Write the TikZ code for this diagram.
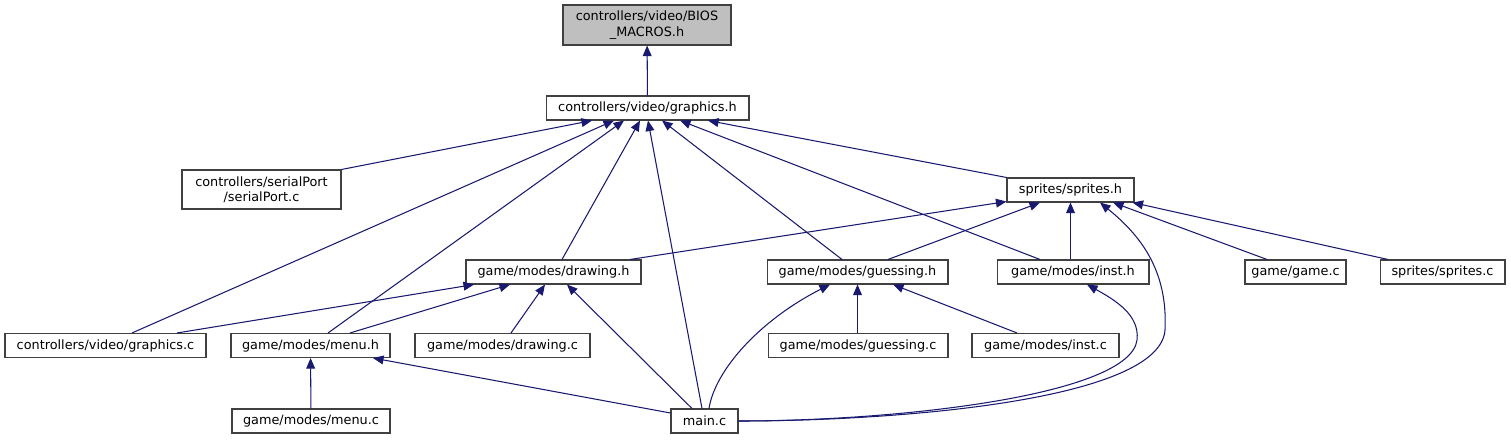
\documentclass[tikz,border=0pt]{standalone}
\usepackage{fontspec}
\setmainfont{DejaVu Sans}
\usetikzlibrary{arrows.meta,calc}
\definecolor{midnightblue}{RGB}{25,25,112}
\definecolor{rootgray}{RGB}{191,191,191}
\begin{document}
\begin{tikzpicture}[
  x=0.02cm,y=-0.02cm,
  file/.style={draw=black!75,fill=white,line width=0.6pt,inner sep=0pt,
    minimum height=0.48cm,align=center,font=\fontsize{7.3}{8.8}\selectfont},
  root/.style={file,fill=rootgray,minimum height=0.8cm},
  dep/.style={-{Triangle[length=6pt,width=5pt]},midnightblue,line width=0.6pt}
]
  \useasboundingbox (0,0) rectangle (1511,440);

  % files
  \node[root,minimum width=3.36cm] (bios) at (647,25) {controllers/video/BIOS\\\_MACROS.h};
  \node[file,minimum width=4.06cm] (graphicsh) at (647.5,108) {controllers/video/graphics.h};
  \node[file,minimum width=3.18cm,minimum height=0.78cm] (serialc) at (261.5,189.5) {controllers/serialPort\\/serialPort.c};
  \node[file,minimum width=2.54cm] (spritesh) at (1070.5,190) {sprites/sprites.h};

  \node[file,minimum width=3.50cm] (drawingh) at (553.5,272) {game/modes/drawing.h};
  \node[file,minimum width=3.62cm] (guessingh) at (857.5,272) {game/modes/guessing.h};
  \node[file,minimum width=3.04cm] (insth) at (1073,272) {game/modes/inst.h};
  \node[file,minimum width=2.02cm] (gamec) at (1295.5,272) {game/game.c};
  \node[file,minimum width=2.50cm] (spritesc) at (1442.5,272) {sprites/sprites.c};

  \node[file,minimum width=4.02cm] (graphicsc) at (105.5,345.5) {controllers/video/graphics.c};
  \node[file,minimum width=3.18cm] (menuh) at (310.5,345.5) {game/modes/menu.h};
  \node[file,minimum width=3.50cm] (drawingc) at (502.5,345.5) {game/modes/drawing.c};
  \node[file,minimum width=3.60cm] (guessingc) at (858,345.5) {game/modes/guessing.c};
  \node[file,minimum width=2.94cm] (instc) at (1045.5,345.5) {game/modes/inst.c};

  \node[file,minimum width=3.16cm] (menuc) at (311,421) {game/modes/menu.c};
  \node[file,minimum width=1.34cm] (mainc) at (704.5,421) {main.c};

  % includes of graphics.h
  \draw[dep] (graphicsh) -- (bios);
  \draw[dep] (serialc.north east) -- ($(graphicsh.south)+(-55.5,0)$);
  \draw[dep] ($(graphicsc.north)+(26.5,0)$) -- ($(graphicsh.south)+(-33.5,0)$);
  \draw[dep] ($(menuh.north)+(17.5,0)$) -- ($(graphicsh.south)+(-23.5,0)$);
  \draw[dep] ($(drawingh.north)+(8.5,0)$) -- ($(graphicsh.south)+(-7.5,0)$);
  \draw[dep] ($(mainc.north)+(-2.5,0)$) -- ($(graphicsh.south)+(0.5,0)$);
  \draw[dep] ($(guessingh.north)+(-15.5,0)$) -- ($(graphicsh.south)+(14.5,0)$);
  \draw[dep] ($(insth.north)+(-33,0)$) -- ($(graphicsh.south)+(32.5,0)$);
  \draw[dep] (spritesh.north west) -- ($(graphicsh.south)+(60.5,0)$);

  % includes of sprites.h
  \draw[dep] ($(drawingh.north)+(76.5,0)$) -- ($(spritesh.south west)+(0,-1)$);
  \draw[dep] ($(guessingh.north)+(30.5,0)$) -- ($(spritesh.south)+(-30.5,0)$);
  \draw[dep] (insth.north -| spritesh.south) -- (spritesh.south);
  \draw[dep] (mainc.east) .. controls (900,421) and (1160,400) .. (1165,330)
    .. controls (1168,270) and (1140,235) .. ($(spritesh.south)+(29.5,0)$);
  \draw[dep] ($(gamec.north)+(-28.5,0)$) -- ($(spritesh.south)+(42.5,0)$);
  \draw[dep] ($(spritesc.north)+(-54.5,0)$) -- ($(spritesh.south east)+(-2,0)$);

  % includes of drawing.h
  \draw[dep] ($(graphicsc.north)+(71.5,0)$) -- ($(drawingh.south)+(-79.5,0)$);
  \draw[dep] ($(menuh.north)+(39.5,0)$) -- ($(drawingh.south)+(-43.5,0)$);
  \draw[dep] ($(drawingc.north)+(8.5,0)$) -- ($(drawingh.south)+(-8.5,0)$);
  \draw[dep] ($(mainc.north)+(-12.5,0)$) -- ($(drawingh.south)+(13.5,0)$);

  % includes of guessing.h and inst.h
  \draw[dep] ($(mainc.north)+(4.5,0)$) .. controls (715,370) and (760,320) .. ($(guessingh.south)+(-27.5,0)$);
  \draw[dep] (guessingc.north -| guessingh.south) -- (guessingh.south);
  \draw[dep] ($(instc.north)+(-28.5,0)$) -- ($(guessingh.south)+(35.5,0)$);
  \draw[dep] (mainc.east) .. controls (900,421) and (1130,395) .. (1137,340)
    .. controls (1140,315) and (1115,300) .. ($(insth.south)+(14,0)$);

  % includes of menu.h
  \draw[dep] ($(mainc.west)+(0,-8)$) -- ($(menuh.south)+(62.5,0)$);
  \draw[dep] (menuc) -- (menuh);
\end{tikzpicture}
\end{document}
